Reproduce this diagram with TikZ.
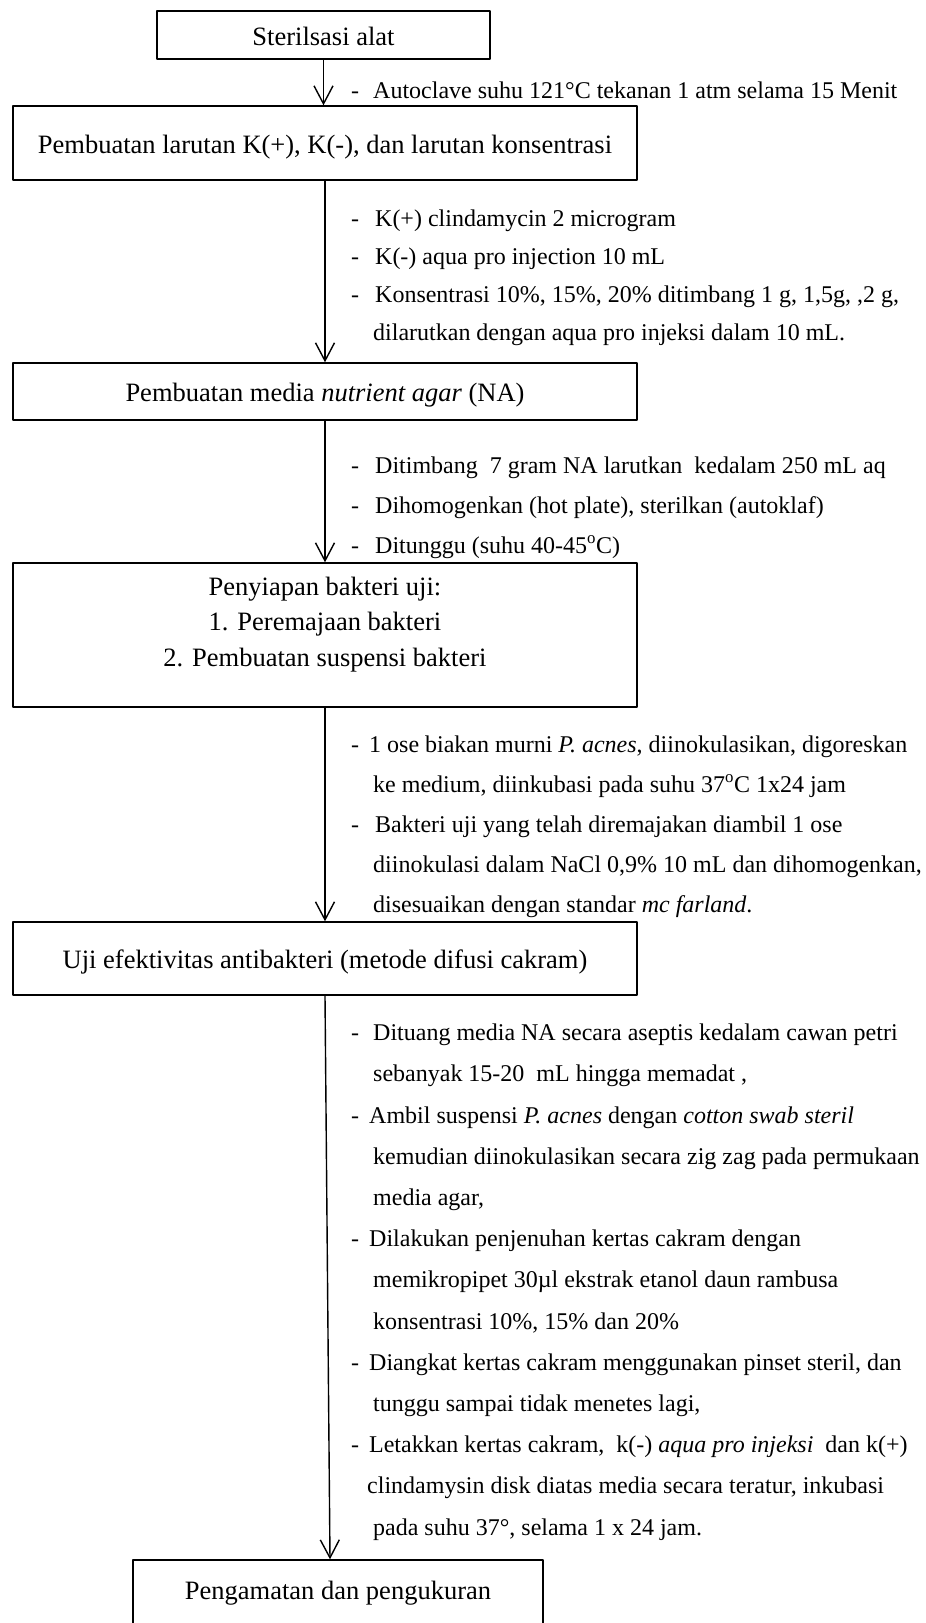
\documentclass[tikz,border=0pt]{standalone}
\usepackage{fontspec}
\setmainfont{Liberation Serif}
\usetikzlibrary{arrows.meta}
\newcommand{\itm}[2][22pt]{\makebox[#1][l]{-}#2}
\newcommand{\cnt}[1]{\hspace*{22pt}#1}
\begin{document}
\begin{tikzpicture}[x=1pt,y=-1pt,>={Straight Barb[length=18pt,width=19pt]}, font=\fontsize{26.5}{30}\selectfont, line join=round, line cap=round]
	\tikzset{box/.style={draw, line width=1.4pt, inner sep=0pt, align=center, minimum height=#1, text height=20pt, text depth=0pt},
		note/.style={anchor=base west, inner sep=0pt, align=left}}
	\def \xm{325}\def \xn{351}\def \wb{624}
	\useasboundingbox (0,0) rectangle (926,1623);
	\node[box=48pt, minimum width=333pt] (alat) at (323.5,35) {Sterilsasi alat};
	\node[box=74pt, minimum width=\wb pt] (larutan) at (\xm,143) {Pembuatan larutan K(+), K(-), dan larutan konsentrasi};
	\node[box=57pt, minimum width=\wb pt] (media) at (\xm,391.5) {Pembuatan media \textit{nutrient agar} (NA)};
	\node[draw, line width=1.4pt, inner sep=0pt, minimum width=\wb pt] (bakteri) at (\xm,635)
		{\parbox[c][144pt][t]{600pt}{\centering\vspace*{14pt}\fontsize{26.5}{35.5}\selectfont
		Penyiapan bakteri uji:\\1. Peremajaan bakteri\\2. Pembuatan suspensi bakteri}};
	\node[box=73pt, minimum width=\wb pt] (uji) at (\xm,958.5) {Uji efektivitas antibakteri (metode difusi cakram)};
	\node[box=90pt, minimum width=410pt, text depth=31pt] (amati) at (338,1605) {Pengamatan dan pengukuran};
	% keterangan tiap tahap
	\node[note, font=\fontsize{24}{30}\selectfont] (k1) at (\xn,98) {\itm{Autoclave suhu 121°C tekanan 1 atm selama 15 Menit}};
	\node[note, font=\fontsize{24}{38}\selectfont] (k2) at (\xn,340)
		{\itm[24pt]{K(+) clindamycin 2 microgram}\\
		\itm[24pt]{K(-) aqua pro injection 10 mL}\\
		\itm[24pt]{Konsentrasi 10\%, 15\%, 20\% ditimbang 1 g, 1,5g, ,2 g,}\\
		\cnt{dilarutkan dengan aqua pro injeksi dalam 10 mL.}};
	\node[note, font=\fontsize{24}{40}\selectfont] (k3) at (\xn,553)
		{\itm[24pt]{Ditimbang\ \ 7 gram NA larutkan\ \ kedalam 250 mL aq}\\
		\itm[24pt]{Dihomogenkan (hot plate), sterilkan (autoklaf)}\\
		\itm[24pt]{Ditunggu (suhu 40-45\textsuperscript{o}C)}};
	\node[note, font=\fontsize{24}{40}\selectfont] (k4) at (\xn,912)
		{\itm[18pt]{1 ose biakan murni \textit{P. acnes}, diinokulasikan, digoreskan}\\
		\cnt{ke medium, diinkubasi pada suhu 37\textsuperscript{o}C 1x24 jam}\\
		\itm[24pt]{Bakteri uji yang telah diremajakan diambil 1 ose}\\
		\cnt{diinokulasi dalam NaCl 0,9\% 10 mL dan dihomogenkan,}\\
		\cnt{disesuaikan dengan standar \textit{mc farland}.}};
	\node[note, font=\fontsize{24}{41.2}\selectfont] (k5) at (\xn,1535)
		{\itm{Dituang media NA secara aseptis kedalam cawan petri}\\
		\cnt{sebanyak 15-20\ \ mL hingga memadat ,}\\
		\itm[18pt]{Ambil suspensi \textit{P. acnes} dengan \textit{cotton swab steril}}\\
		\cnt{kemudian diinokulasikan secara zig zag pada permukaan}\\
		\cnt{media agar,}\\
		\itm[18pt]{Dilakukan penjenuhan kertas cakram dengan}\\
		\cnt{memikropipet 30µl ekstrak etanol daun rambusa}\\
		\cnt{konsentrasi 10\%, 15\% dan 20\%}\\
		\itm[18pt]{Diangkat kertas cakram menggunakan pinset steril, dan}\\
		\cnt{tunggu sampai tidak menetes lagi,}\\
		\itm[18pt]{Letakkan kertas cakram,\ \ k(-) \textit{aqua pro injeksi}\ \ dan k(+)}\\
		\hspace*{16pt}clindamysin disk diatas media secara teratur, inkubasi\\
		\cnt{pada suhu 37°, selama 1 x 24 jam.}};
	% panah
	\draw[->, line width=1.4pt] (alat.south) -- (alat.south |- larutan.north);
	\draw[->, line width=1.4pt] (larutan.south) -- (media.north);
	\draw[->, line width=1.4pt] (media.south) -- (bakteri.north);
	\draw[->, line width=1.4pt] (bakteri.south) -- (uji.north);
	\draw[->, line width=1.4pt] (uji.south) -- ([xshift=-8pt]amati.north);
\end{tikzpicture}
\end{document}
